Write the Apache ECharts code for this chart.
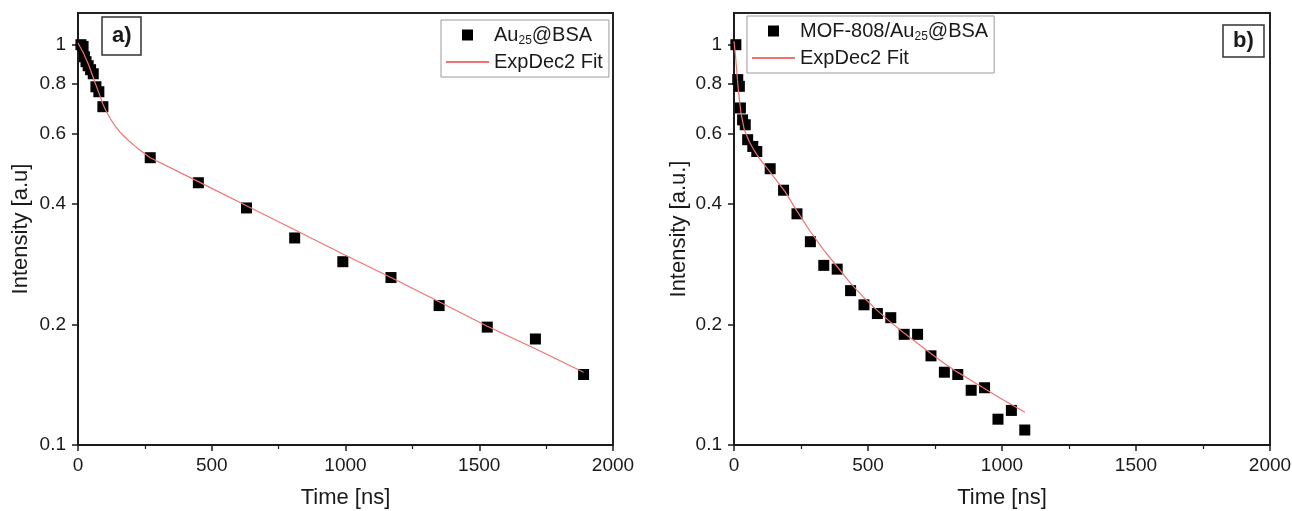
<!DOCTYPE html>
<html>
<head>
<meta charset="utf-8">
<title>Decay curves</title>
<script src="https://cdn.jsdelivr.net/npm/echarts@6/dist/echarts.min.js"></script>
<style>
html, body { margin: 0; padding: 0; background: #fff; }
#container { width: 1292px; height: 511px; }
</style>
</head>
<body>
<div id="container"></div>
<script>
// panel a) Au25@BSA - measured points
var timeA = [11, 19, 24, 30, 38, 47, 57, 67, 78, 93, 270, 450, 630, 810, 990, 1170, 1350, 1530, 1710, 1890];
var intA  = [1.0, 0.99, 0.933, 0.907, 0.886, 0.866, 0.846, 0.785, 0.763, 0.70, 0.522, 0.452, 0.391, 0.329, 0.287, 0.262, 0.223, 0.197, 0.184, 0.150];
// panel a) fit curve
var fitTimeA = [0, 20, 40, 65, 82, 92, 105, 120, 138, 157, 175, 194, 213, 232, 250, 270, 450, 630, 810, 990, 1170, 1350, 1530, 1710, 1890];
var fitA     = [1.01, 0.955, 0.89, 0.80, 0.745, 0.713, 0.683, 0.655, 0.628, 0.605, 0.588, 0.572, 0.558, 0.545, 0.534, 0.522, 0.455, 0.396, 0.345, 0.300, 0.262, 0.228, 0.198, 0.174, 0.152];

// panel b) MOF-808/Au25@BSA - measured points
var timeB = [7, 14, 20, 24, 32, 42, 51, 70, 85, 135, 185, 235, 285, 335, 385, 435, 485, 535, 585, 635, 685, 735, 785, 835, 885, 935, 985, 1035, 1085];
var intB  = [1.0, 0.818, 0.787, 0.695, 0.649, 0.631, 0.579, 0.557, 0.541, 0.490, 0.433, 0.378, 0.322, 0.281, 0.275, 0.243, 0.224, 0.213, 0.208, 0.189, 0.189, 0.167, 0.152, 0.150, 0.137, 0.139, 0.116, 0.122, 0.109];
// panel b) fit curve
var fitTimeB = [0, 5, 11, 17, 26, 38, 57, 77, 94, 134, 190, 234, 284, 333, 383, 433, 483, 532, 582, 632, 682, 731, 781, 831, 881, 930, 980, 1036, 1086];
var fitB     = [1.02, 0.95, 0.845, 0.76, 0.675, 0.615, 0.572, 0.542, 0.521, 0.481, 0.430, 0.385, 0.342, 0.308, 0.280, 0.2545, 0.234, 0.2175, 0.2033, 0.191, 0.180, 0.170, 0.1605, 0.1525, 0.1455, 0.139, 0.1325, 0.126, 0.1207];

// axis ticks
var yTicks = [0.1, 0.2, 0.4, 0.6, 0.8, 1];
var xMin = 0, xMax = 2000, xStep = 500;
var yMin = 0.1, yMax = 1.2;

var FONT = "'Liberation Sans', Arial, sans-serif";
var INK = '#1a1a1a';
var FIT_COLOR = '#f07272';
var SQUARE = 'path://M0,0H10V10H0Z';	// legend marker, kept square

function pairs(xs, ys) {
	var out = [];
	for (var i = 0; i < xs.length; i++) {
		out.push([xs[i], ys[i]]);
	}
	return out;
}

function makeX(idx) {
	return {
		gridIndex: idx,
		type: 'value',
		min: xMin, max: xMax, interval: xStep,
		name: 'Time [ns]',
		nameLocation: 'middle',
		nameGap: 42,
		nameTextStyle: { fontFamily: FONT, fontSize: 22, color: INK },
		axisLine: { onZero: false, lineStyle: { color: INK, width: 1.5 } },
		axisTick: { show: true, inside: false, length: 6, lineStyle: { color: INK, width: 1.5 } },
		minorTick: { show: true, splitNumber: 2, length: 4, lineStyle: { color: INK, width: 1.2 } },
		axisLabel: {
			fontFamily: FONT, fontSize: 19, color: INK, margin: 11,
			formatter: function (v) { return String(v); }
		},
		splitLine: { show: false }
	};
}

function makeY(idx, title, gap) {
	return {
		gridIndex: idx,
		type: 'log',
		logBase: 10,
		min: yMin, max: yMax,
		name: title,
		nameLocation: 'middle',
		nameGap: gap,
		nameTextStyle: { fontFamily: FONT, fontSize: 22, color: INK },
		axisLine: { onZero: false, lineStyle: { color: INK, width: 1.5 } },
		axisTick: { show: true, inside: false, length: 6, customValues: yTicks, lineStyle: { color: INK, width: 1.5 } },
		minorTick: { show: false },
		axisLabel: {
			fontFamily: FONT, fontSize: 19, color: INK, margin: 12,
			customValues: yTicks,
			formatter: function (v) { return String(Math.round(v * 10) / 10); }
		},
		splitLine: { show: false }
	};
}

function makeLegend(left, top, dotName) {
	return {
		orient: 'vertical',
		left: left, top: top,
		data: [
			{ name: dotName, icon: SQUARE },
			{ name: 'ExpDec2 Fit', itemStyle: { opacity: 0 } }
		],
		selectedMode: false,
		itemWidth: 43, itemHeight: 11, itemGap: 5,
		symbolKeepAspect: true,
		padding: [5, 6, 5, 4],
		borderColor: '#9a9a9a', borderWidth: 1,
		backgroundColor: '#fff',
		textStyle: {
			fontFamily: FONT, fontSize: 20, color: INK,
			rich: {
				n: { fontFamily: FONT, fontSize: 20, color: INK, lineHeight: 24, verticalAlign: 'middle' },
				s: { fontFamily: FONT, fontSize: 12, color: INK, lineHeight: 12, verticalAlign: 'bottom' }
			}
		},
		formatter: function (name) {
			// Au25 -> Au with subscript 25
			var k = name.indexOf('Au25');
			if (k < 0) return name;
			return '{n|' + name.slice(0, k) + 'Au}{s|25}{n|' + name.slice(k + 4) + '}';
		}
	};
}

function tag(text, left, top, pad) {
	return {
		text: text, left: left, top: top,
		padding: pad,
		borderColor: '#333', borderWidth: 1.5,
		textStyle: { fontFamily: FONT, fontSize: 22, fontWeight: 'bold', color: INK }
	};
}

var dom = document.getElementById('container');
var myChart = echarts.init(dom, null, { renderer: 'canvas' });

var option = {
	backgroundColor: '#fff',
	animation: false,
	title: [tag('a)', 102, 17, [8, 10]), tag('b)', 1223, 25, [5, 10])],
	legend: [
		makeLegend(441, 20, 'Au25@BSA'),
		makeLegend(747, 16, 'MOF-808/Au25@BSA')
	],
	grid: [
		{ left: 78, top: 13, width: 535, height: 432, outerBoundsMode: 'none', show: true, borderColor: '#222', borderWidth: 2, backgroundColor: 'transparent' },
		{ left: 734, top: 13, width: 536, height: 432, outerBoundsMode: 'none', show: true, borderColor: '#222', borderWidth: 2, backgroundColor: 'transparent' }
	],
	xAxis: [makeX(0), makeX(1)],
	yAxis: [makeY(0, 'Intensity [a.u]', 46), makeY(1, 'Intensity [a.u.]', 44)],
	series: [
		{
			name: 'ExpDec2 Fit', type: 'line', xAxisIndex: 0, yAxisIndex: 0,
			data: pairs(fitTimeA, fitA),
			symbol: 'none', smooth: false,
			lineStyle: { color: FIT_COLOR, width: 1.2 }, itemStyle: { color: FIT_COLOR }, z: 3
		},
		{
			name: 'Au25@BSA', type: 'scatter', xAxisIndex: 0, yAxisIndex: 0,
			data: pairs(timeA, intA),
			symbol: 'rect', symbolSize: 11,
			itemStyle: { color: '#000', opacity: 1 }, z: 2
		},
		{
			name: 'ExpDec2 Fit', type: 'line', xAxisIndex: 1, yAxisIndex: 1,
			data: pairs(fitTimeB, fitB),
			symbol: 'none', smooth: false,
			lineStyle: { color: FIT_COLOR, width: 1.2 }, itemStyle: { color: FIT_COLOR }, z: 3
		},
		{
			name: 'MOF-808/Au25@BSA', type: 'scatter', xAxisIndex: 1, yAxisIndex: 1,
			data: pairs(timeB, intB),
			symbol: 'rect', symbolSize: 11,
			itemStyle: { color: '#000', opacity: 1 }, z: 2
		}
	]
};

myChart.setOption(option);
</script>
</body>
</html>
